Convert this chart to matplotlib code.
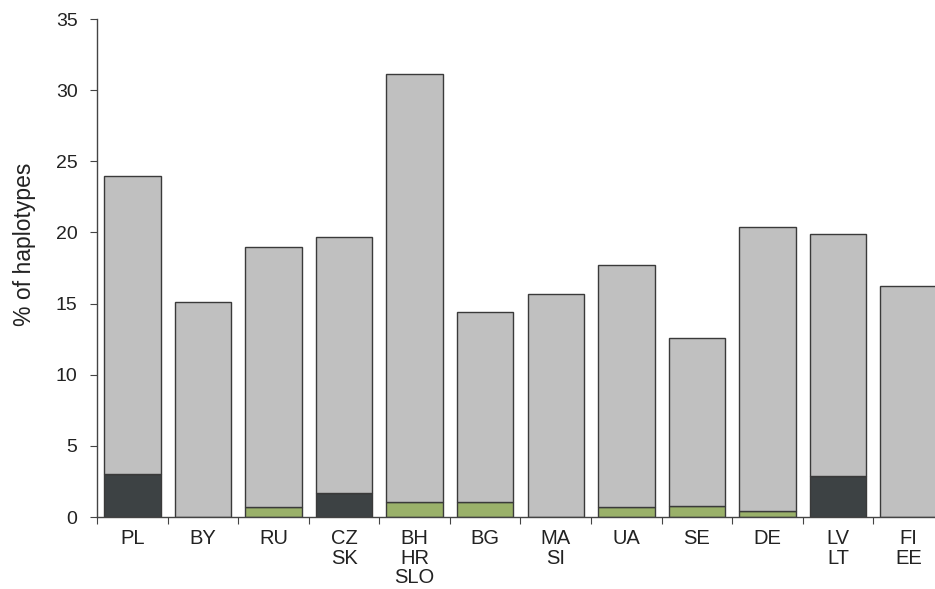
import matplotlib
matplotlib.use("Agg")
import matplotlib.pyplot as plt
import numpy as np

categories = ["PL", "BY", "RU", "CZ\nSK", "BH\nHR\nSLO", "BG", "MA\nSI", "UA", "SE", "DE", "LV\nLT", "FI\nEE"]
totals = [24.0, 15.1, 19.0, 19.7, 31.1, 14.4, 15.7, 17.7, 12.6, 20.4, 19.9, 16.2]
dark_part = [3.05, 0, 0, 1.7, 0, 0, 0, 0, 0, 0, 2.9, 0]
green_part = [0, 0, 0.7, 0, 1.05, 1.05, 0, 0.7, 0.75, 0.4, 0, 0]
y_ticks = [0, 5, 10, 15, 20, 25, 30, 35]

plt.rcParams['font.family'] = ['Liberation Sans', 'DejaVu Sans']

fig = plt.figure(figsize=(9.35, 5.89), dpi=100)
ax = fig.add_axes([97/935, 72/589, 847/935, 498/589])

x = np.arange(len(categories))
dark = np.array(dark_part)
green = np.array(green_part)
base = dark + green
tot = np.array(totals)

ec = '#3a3a3a'
ax.bar(x, dark, width=0.8, color='#3d4244', edgecolor=ec, linewidth=1.0)
ax.bar(x, green, bottom=dark, width=0.8, color='#9ab16a', edgecolor=ec, linewidth=1.0)
ax.bar(x, tot - base, bottom=base, width=0.8, color='#c0c0c0', edgecolor=ec, linewidth=1.0)

ax.set_xlim(-0.5, len(categories) - 0.5)
ax.set_ylim(0, 35)
ax.set_yticks(y_ticks)
ax.set_xticks(np.arange(len(categories) + 1) - 0.5)
ax.set_xticklabels([])
ax.set_xticks(x, minor=True)
ax.set_xticklabels(categories, minor=True, fontsize=14.5, color='#222222', linespacing=1.02, va='top')
ax.tick_params(axis='x', which='minor', length=0, pad=9)
ax.tick_params(axis='x', which='major', length=5, direction='out', color='#444444')
ax.tick_params(axis='y', length=5, direction='out', color='#444444', labelsize=14, labelcolor='#222222', pad=9)

for s in ['top', 'right']:
    ax.spines[s].set_visible(False)
for s in ['left', 'bottom']:
    ax.spines[s].set_color('#444444')
    ax.spines[s].set_linewidth(1.0)

ax.set_ylabel('% of haplotypes', fontsize=16.5, color='#222222')
ax.yaxis.set_label_coords(-0.072, 0.548)

fig.savefig('out.png', dpi=100)
